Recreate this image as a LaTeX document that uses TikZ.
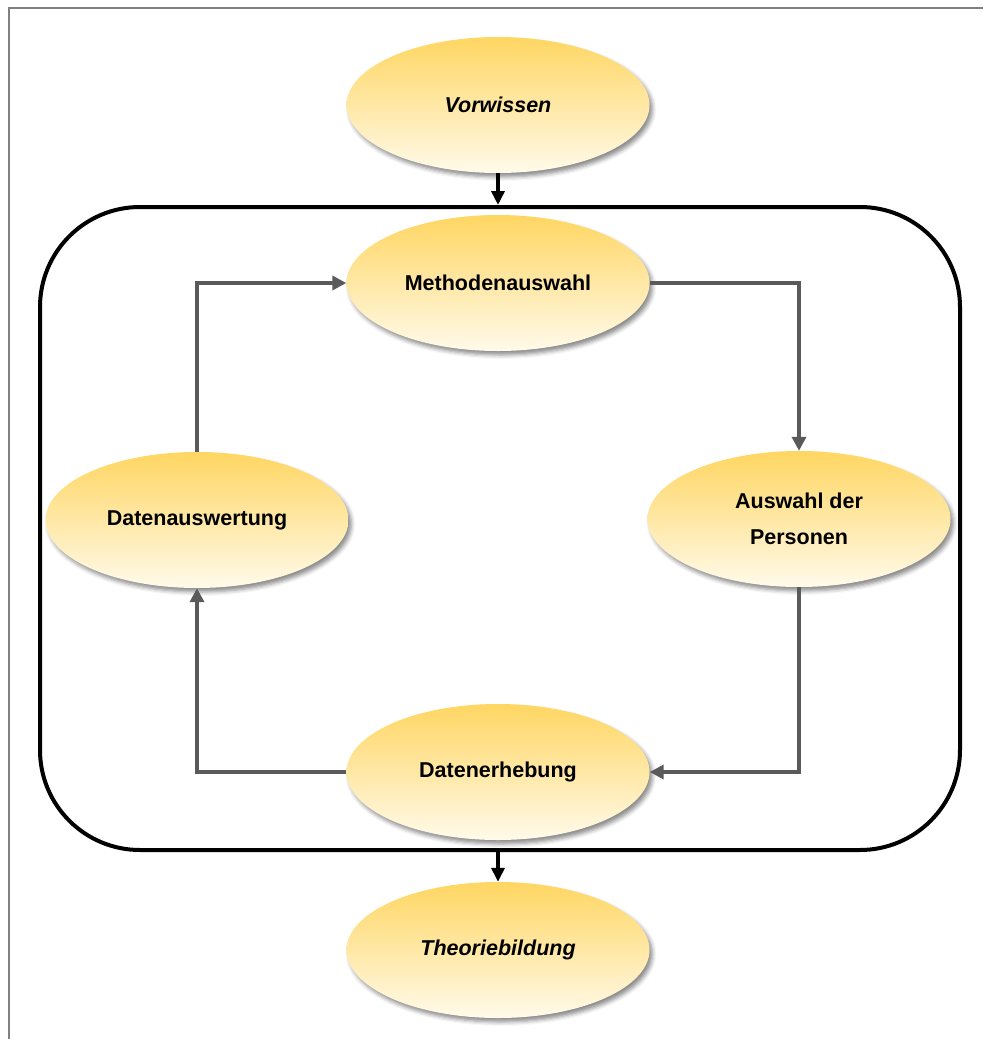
\documentclass[tikz,border=0pt]{standalone}
\usepackage{fontspec}
\setmainfont{Liberation Sans}
\usepackage{tikz}
\usetikzlibrary{arrows.meta,positioning,shapes.geometric,shadows.blur}
\definecolor{goldtop}{RGB}{255,214,98}
\definecolor{goldbot}{RGB}{255,250,234}
\definecolor{flowgray}{RGB}{90,90,90}
\definecolor{framegray}{RGB}{128,128,128}
\tikzset{
  stepell/.style={ellipse, inner sep=0pt, minimum width=303pt, minimum height=136pt,
                  top color=goldtop, bottom color=goldbot, align=center,
                  font=\fontsize{21.5}{36}\selectfont\bfseries,
                  blur shadow={shadow xshift=3pt, shadow yshift=-4pt,
                               shadow blur radius=4pt, shadow opacity=45}},
  ioell/.style={stepell, font=\fontsize{21.5}{36}\selectfont\bfseries\itshape},
  loopframe/.style={draw, line width=4pt, rounded corners=100pt, minimum width=920pt,
                    minimum height=643pt, inner sep=0pt},
  flow/.style={-{Triangle[length=14pt, width=14pt]}, line width=4pt, flowgray},
  inflow/.style={-{Triangle[length=14pt, width=13pt]}, line width=4pt, black},
}

\begin{document}
\begin{tikzpicture}[x=1pt, y=-1pt]
  \useasboundingbox (0,0) rectangle (983,1039);
  \draw[framegray, line width=2pt] (9,1039) -- (9,8) -- (983,8);

  % research cycle
  \node[loopframe] (cycle) at (500,528.5) {};
  \node[ioell] (vorw) at (498,105) {Vorwissen};
  \node[stepell] (meth) at (498,283) {Methodenauswahl};
  \node[stepell] (pers) at (799,519) {Auswahl der\\ Personen};
  \node[stepell] (erh) at (498,772) {Datenerhebung};
  \node[stepell] (ausw) at (197,520) {Datenauswertung};
  \node[ioell] (theo) at (498,950) {Theoriebildung};

  \draw[inflow] (vorw) -- (vorw |- cycle.north);
  \draw[inflow] (cycle.south -| theo) -- (theo);
  \draw[flow] (meth.east) -| (pers.north);
  \draw[flow] (pers.south) |- (erh.east);
  \draw[flow] (erh.west) -| (ausw.south);
  \draw[flow] (ausw.north) |- (meth.west);
\end{tikzpicture}
\end{document}
